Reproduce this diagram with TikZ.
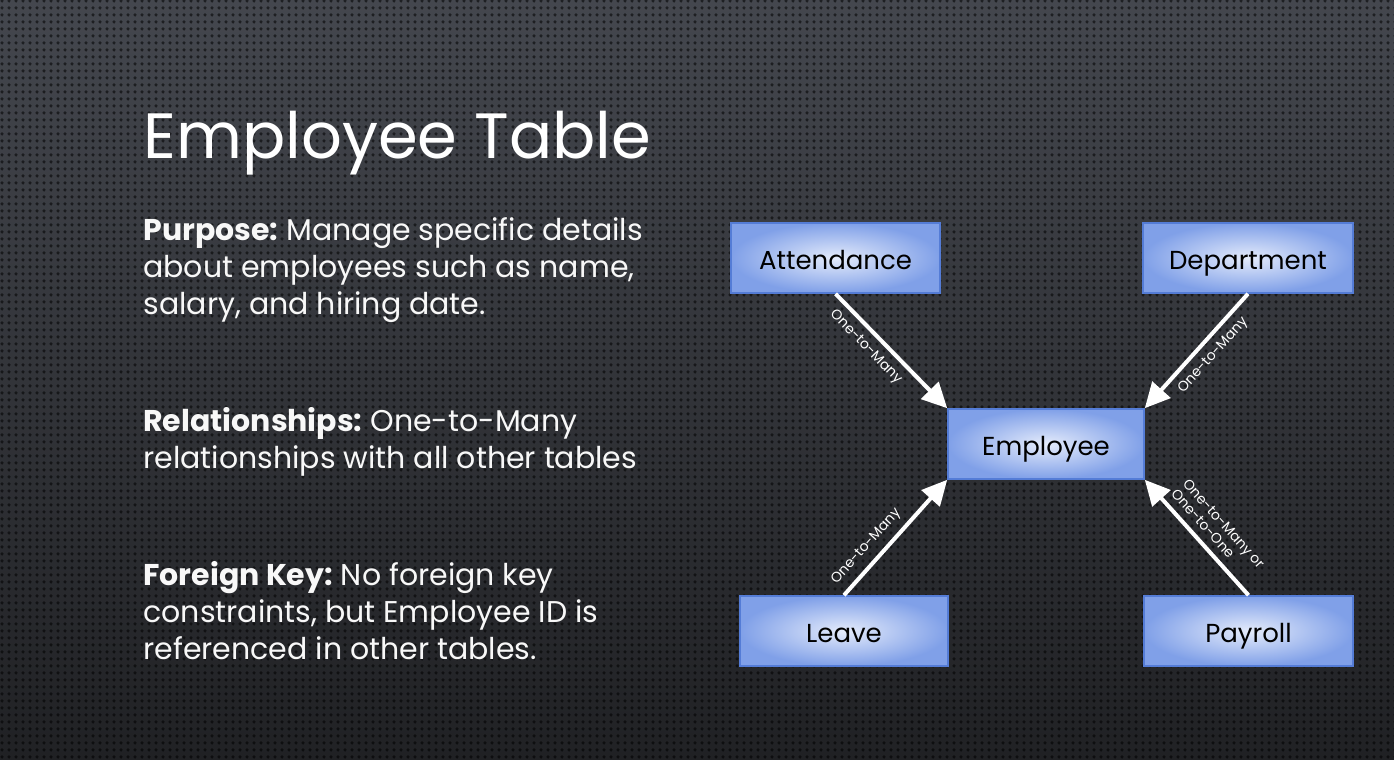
\documentclass[tikz,border=0pt]{standalone}
\usepackage{fontspec}
\setmainfont{Poppins}
\usetikzlibrary{arrows.meta,patterns.meta}

% perforated-metal texture for the backdrop
\pgfdeclarepattern{
  name=dotgrid, type=uncolored,
  bottom left={\pgfpoint{0pt}{0pt}},
  top right={\pgfpoint{3.5pt}{3.5pt}},
  tile size={\pgfpoint{3.5pt}{3.5pt}},
  code={\pgfpathcircle{\pgfpoint{1.75pt}{1.75pt}}{1pt}\pgfusepath{fill}}
}

\definecolor{bgtop}{RGB}{68,71,78}
\definecolor{bgbot}{RGB}{32,33,36}
\definecolor{boxin}{RGB}{228,235,251}
\definecolor{boxout}{RGB}{128,160,232}
\definecolor{boxline}{RGB}{84,124,214}
\definecolor{txt}{RGB}{248,248,248}

\tikzset{
  entity/.style={rectangle, inner color=boxin, outer color=boxout,
    draw=boxline, line width=0.8pt, minimum height=35pt,
    text height=11pt, text depth=0pt,
    font=\fontsize{13}{15}\selectfont, text=black},
  rel/.style={draw=white, line width=2pt,
    -{Triangle[length=12.5pt,width=12pt]}},
  card/.style={font=\fontsize{7}{7.8}\selectfont, text=white,
    sloped, inner sep=3.5pt},
  body/.style={anchor=base west, text=txt,
    font=\fontsize{15}{18.5}\selectfont, inner sep=0pt}
}

\begin{document}
\begin{tikzpicture}[x=0.5pt,y=-0.5pt]
  % backdrop
  \useasboundingbox (0,0) rectangle (1394,760);
  \shade[top color=bgtop, bottom color=bgbot] (0,0) rectangle (1394,760);
  \fill[pattern=dotgrid, pattern color=black, opacity=0.55] (0,0) rectangle (1394,760);

  % heading and description
  \node[anchor=base west, inner sep=0pt, text=white,
        font=\fontsize{32}{38}\selectfont] (title) at (143,158) {Employee Table};
  \node[body] (purpose) at (143,240)
    {\begin{tabular}[t]{@{}l@{}}\textbf{Purpose:}~Manage specific details\\about employees such as name,\\salary, and hiring date.\end{tabular}};
  \node[body] (rels) at (143,431)
    {\begin{tabular}[t]{@{}l@{}}\textbf{Relationships:}~One-to-Many\\relationships with all other tables\end{tabular}};
  \node[body] (fkey) at (143,585)
    {\begin{tabular}[t]{@{}l@{}}\textbf{Foreign Key:}~No foreign key\\constraints, but Employee ID is\\referenced in other tables.\end{tabular}};

  % tables
  \node[entity, minimum width=104.5pt] (att)  at (835.5,258) {Attendance};
  \node[entity, minimum width=105pt]   (dept) at (1248,258)  {Department};
  \node[entity, minimum width=98pt]    (emp)  at (1046,444)  {Employee};
  \node[entity, minimum width=104pt]   (lv)   at (844,631)   {Leave};
  \node[entity, minimum width=104.5pt] (pay)  at (1248.5,631){Payroll};

  % relationships
  \draw[rel] (att.south) -- node[card, below, pos=0.37] {One-to-Many} (emp.north west);
  \draw[rel] (dept.south) -- node[card, below, pos=0.45] {One-to-Many} (emp.north east);
  \draw[rel] (lv.north) -- node[card, above, pos=0.33] {One-to-Many} (emp.south west);
  \draw[rel] (pay.north) -- node[card, above, pos=0.45, align=left] {One-to-Many or\\One-to-One} (emp.south east);
\end{tikzpicture}
\end{document}
